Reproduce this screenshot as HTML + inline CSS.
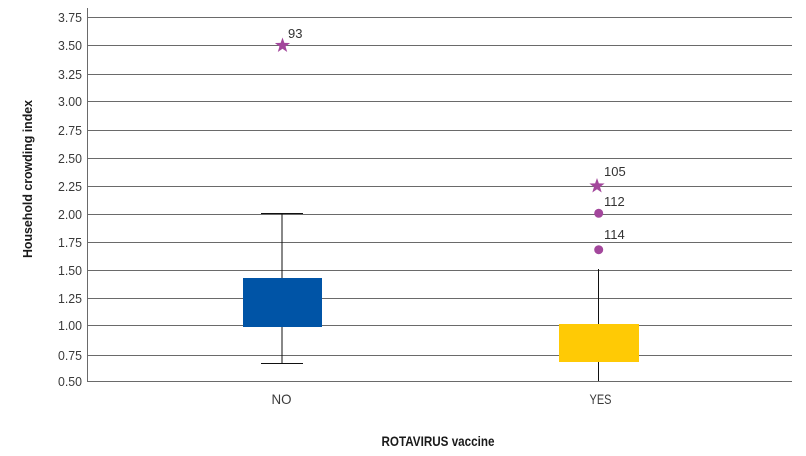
<!DOCTYPE html>
<html><head><meta charset="utf-8"><style>
html,body{margin:0;padding:0;background:#fff;}
svg{display:block;}
text{font-family:"Liberation Sans",sans-serif;}
</style></head><body>
<svg width="806" height="456" viewBox="0 0 806 456" xmlns="http://www.w3.org/2000/svg">
<g stroke="#6a6a6a" stroke-width="1">
<line x1="88" y1="17.5" x2="792" y2="17.5"/>
<line x1="88" y1="45.5" x2="792" y2="45.5"/>
<line x1="88" y1="74.5" x2="792" y2="74.5"/>
<line x1="88" y1="101.5" x2="792" y2="101.5"/>
<line x1="88" y1="130.5" x2="792" y2="130.5"/>
<line x1="88" y1="158.5" x2="792" y2="158.5"/>
<line x1="88" y1="186.5" x2="792" y2="186.5"/>
<line x1="88" y1="214.5" x2="792" y2="214.5"/>
<line x1="88" y1="242.5" x2="792" y2="242.5"/>
<line x1="88" y1="270.5" x2="792" y2="270.5"/>
<line x1="88" y1="298.5" x2="792" y2="298.5"/>
<line x1="88" y1="325.5" x2="792" y2="325.5"/>
<line x1="88" y1="355.5" x2="792" y2="355.5"/>
<line x1="87" y1="381.5" x2="792" y2="381.5"/>
<line x1="87.5" y1="8" x2="87.5" y2="382"/>
</g>
<g font-size="13" fill="#3a3a3a" text-anchor="end">
<text x="82" y="22" textLength="24" lengthAdjust="spacingAndGlyphs">3.75</text>
<text x="82" y="50" textLength="24" lengthAdjust="spacingAndGlyphs">3.50</text>
<text x="82" y="79" textLength="24" lengthAdjust="spacingAndGlyphs">3.25</text>
<text x="82" y="106" textLength="24" lengthAdjust="spacingAndGlyphs">3.00</text>
<text x="82" y="135" textLength="24" lengthAdjust="spacingAndGlyphs">2.75</text>
<text x="82" y="163" textLength="24" lengthAdjust="spacingAndGlyphs">2.50</text>
<text x="82" y="191" textLength="24" lengthAdjust="spacingAndGlyphs">2.25</text>
<text x="82" y="219" textLength="24" lengthAdjust="spacingAndGlyphs">2.00</text>
<text x="82" y="247" textLength="24" lengthAdjust="spacingAndGlyphs">1.75</text>
<text x="82" y="275" textLength="24" lengthAdjust="spacingAndGlyphs">1.50</text>
<text x="82" y="303" textLength="24" lengthAdjust="spacingAndGlyphs">1.25</text>
<text x="82" y="330" textLength="24" lengthAdjust="spacingAndGlyphs">1.00</text>
<text x="82" y="360" textLength="24" lengthAdjust="spacingAndGlyphs">0.75</text>
<text x="82" y="386" textLength="24" lengthAdjust="spacingAndGlyphs">0.50</text>
</g>
<g stroke="#111" stroke-width="1">
<line x1="282" y1="213.5" x2="282" y2="278"/>
<line x1="282" y1="327" x2="282" y2="363.5"/>
<line x1="261" y1="213.5" x2="303" y2="213.5"/>
<line x1="261" y1="363.5" x2="303" y2="363.5"/>
<line x1="598.5" y1="269" x2="598.5" y2="324"/>
<line x1="598.5" y1="362" x2="598.5" y2="381"/>
</g>
<rect x="243" y="278" width="79" height="49" fill="#0054a6"/>
<rect x="559" y="324" width="80" height="38" fill="#ffca05"/>
<g fill="#a3479c">
<path transform="translate(282.5,45.5)" d="M0,-8 L1.88,-2.59 L7.61,-2.47 L3.04,0.99 L4.70,6.47 L0,3.2 L-4.70,6.47 L-3.04,0.99 L-7.61,-2.47 L-1.88,-2.59 Z"/>
<path transform="translate(597,186)" d="M0,-8 L1.88,-2.59 L7.61,-2.47 L3.04,0.99 L4.70,6.47 L0,3.2 L-4.70,6.47 L-3.04,0.99 L-7.61,-2.47 L-1.88,-2.59 Z"/>
<circle cx="598.7" cy="213.3" r="4.5"/>
<circle cx="598.7" cy="249.7" r="4.5"/>
</g>
<g font-size="13" fill="#333">
<text x="288" y="38">93</text>
<text x="604" y="176">105</text>
<text x="604" y="206">112</text>
<text x="604" y="239">114</text>
</g>
<g font-size="14" fill="#3a3a3a" text-anchor="middle">
<text x="281.5" y="404" textLength="20" lengthAdjust="spacingAndGlyphs">NO</text>
<text x="600.5" y="404" textLength="22" lengthAdjust="spacingAndGlyphs">YES</text>
</g>
<text x="438" y="446" font-size="14" font-weight="bold" fill="#1a1a1a" text-anchor="middle" textLength="113" lengthAdjust="spacingAndGlyphs">ROTAVIRUS vaccine</text>
<text transform="translate(32,179) rotate(-90)" font-size="13" font-weight="bold" fill="#1a1a1a" text-anchor="middle" textLength="158" lengthAdjust="spacingAndGlyphs">Household crowding index</text>
</svg>
</body></html>
